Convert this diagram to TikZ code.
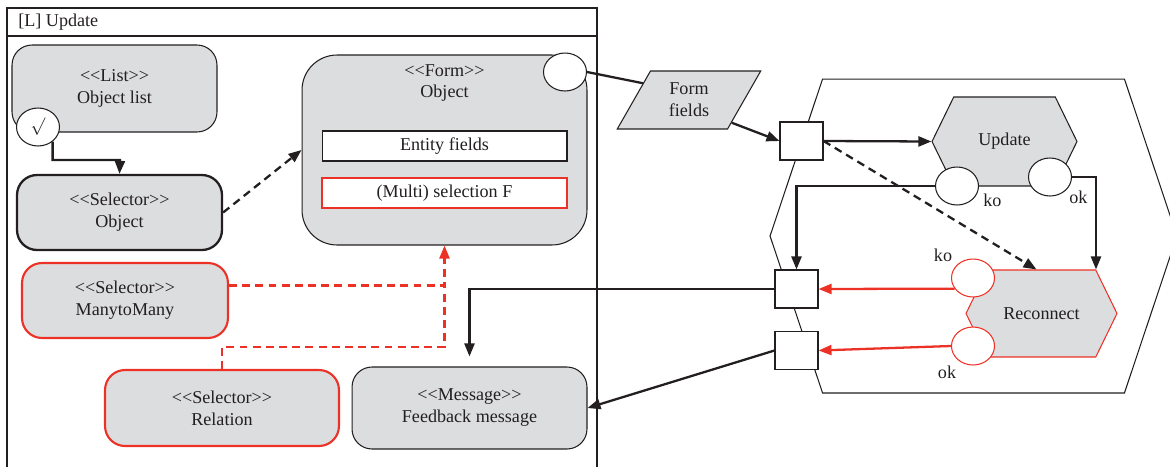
\documentclass[tikz,border=0pt]{standalone}
\usepackage{fontspec}
\setmainfont{Liberation Serif}
\usetikzlibrary{shapes.geometric,shapes.symbols,arrows.meta,calc}
\definecolor{boxgray}{RGB}{220,221,223}
\definecolor{linered}{RGB}{236,50,38}
\definecolor{ink}{RGB}{35,31,32}
\newcommand{\diagfont}{\fontsize{10.3}{12.5}\selectfont}
\newcommand{\stereo}[1]{<\kern0pt<#1>\kern0pt>}
\tikzset{
  unit/.style={rectangle, rounded corners=0.4cm, draw=ink, fill=boxgray, line width=0.6pt, align=center, inner sep=0pt},
  redunit/.style={unit, draw=linered, line width=1.2pt},
  field/.style={rectangle, draw=ink, fill=white, line width=0.6pt, minimum width=4.9cm, minimum height=0.6cm, inner sep=0pt},
  port/.style={ellipse, draw=ink, fill=white, line width=0.6pt, minimum width=0.86cm, minimum height=0.76cm, inner sep=0pt},
  redport/.style={port, draw=linered},
  gate/.style={rectangle, draw=ink, fill=white, line width=0.6pt, minimum width=0.86cm, minimum height=0.76cm, inner sep=0pt},
  operation/.style={signal, signal to=west and east, signal pointer angle=128, fill=boxgray, draw=ink, line width=0.6pt, inner sep=0pt},
  flow/.style={draw=ink, line width=1.3pt, -{Triangle[length=0.26cm,width=0.2cm]}},
  redflow/.style={draw=linered, line width=1.3pt, -{Triangle[length=0.26cm,width=0.2cm]}},
  link/.style={flow, dash pattern=on 4.5pt off 3pt},
  redlink/.style={draw=linered, line width=1.3pt, dash pattern=on 4.5pt off 3pt}
}
\begin{document}
\begin{tikzpicture}[x=0.02cm, y=-0.02cm, every node/.style={font=\diagfont, text=ink}]
  \useasboundingbox (0,0) rectangle (1170,467);

  % Container
  \draw[ink, line width=0.6pt] (7,467) -- (7,8) -- (597,8) -- (597,467);
  \draw[ink, line width=0.6pt] (7,36) -- (597,36);
  \node[anchor=west, inner sep=0pt] (title) at (18,22) {[L] Update};

  % View components
  \node[unit, minimum width=4.1cm, minimum height=1.74cm] (list) at (114.5,88.5) {\stereo{List}\\Object list};
  \node[port] (listport) at (38,127) {$\surd$};
  \node[unit, line width=1.3pt, minimum width=4.1cm, minimum height=1.5cm] (selobj) at (119.5,212.5) {\stereo{Selector}\\Object};
  \node[unit, rounded corners=0.7cm, minimum width=5.7cm, minimum height=3.8cm] (form) at (444.5,150) {};
  \node[align=center, inner sep=0pt] (formtitle) at (444.5,83) {\stereo{Form}\\Object};
  \node[port] (formport) at (565,72) {};
  \node[field] (entity) at (444.5,146) {Entity fields};
  \node[field, draw=linered, line width=1.2pt] (multi) at (444.5,193) {(Multi) selection F};
  \node[redunit, minimum width=4.12cm, minimum height=1.5cm] (many) at (125,300.5) {\stereo{Selector}\\ManytoMany};
  \node[redunit, minimum width=4.68cm, minimum height=1.52cm] (rel) at (222,408) {\stereo{Selector}\\Relation};
  \node[unit, minimum width=4.7cm, minimum height=1.64cm] (msg) at (469.5,408) {\stereo{Message}\\Feedback message};

  % Parameters
  \node[trapezium, trapezium left angle=63, trapezium right angle=117, trapezium stretches=true,
        draw=ink, fill=boxgray, line width=0.6pt, minimum width=2.88cm, minimum height=1.16cm,
        align=center, inner sep=0pt] (fields) at (689,100) {Form\\fields};

  % Operation module
  \node[signal, signal to=west and east, signal pointer angle=143, draw=ink, line width=0.6pt,
        minimum width=8.14cm, minimum height=6.28cm, inner sep=0pt] (module) at (973.5,236) {};
  \node[gate] (sq1) at (801.5,141) {};
  \node[gate] (sq2) at (796.5,289) {};
  \node[gate] (sq3) at (796.5,350.5) {};
  \node[operation, minimum width=2.9cm, minimum height=1.78cm] (upd) at (1004.5,141.5) {Update};
  \node[port] (updko) at (957,186) {};
  \node[port] (updok) at (1050,177) {};
  \node[anchor=west, inner sep=0pt] (updkolab) at (983,200) {ko};
  \node[anchor=west, inner sep=0pt] (updoklab) at (1069,197) {ok};
  \node[operation, draw=linered, minimum width=3.02cm, minimum height=1.74cm] (rec) at (1041.5,313.5) {Reconnect};
  \node[redport] (recko) at (973,278) {};
  \node[redport] (recok) at (973,346) {};
  \node[inner sep=0pt] (recklab) at (943,255) {ko};
  \node[inner sep=0pt] (recolab) at (947,372) {ok};

  % Waypoints
  \coordinate (kink) at (120,160);
  \coordinate (rjoin) at (444.5,347);
  \coordinate (mjoin) at (444.5,285.5);

  % Connectors
  \draw[flow] (listport.-45) |- (kink) -- (selobj.north);
  \draw[link] (selobj.east) -- (form.west);
  \draw[ink, line width=1.3pt] (formport.east) -- (fields.160);
  \draw[flow] (fields.-28) -- (sq1.west);
  \draw[flow] (sq1.east) -- (upd.west);
  \draw[link] (sq1.east) -- ($(rec.north)+(-5,0)$);
  \draw[flow] (updko.west) -| (sq2.north);
  \draw[flow] (updok.east) -| ($(rec.north)+(54.5,0)$);
  \draw[redflow] (recko.210) -- (sq2.east);
  \draw[redflow] (recok.west) -- (sq3.east);
  \draw[flow, shorten >=0.2cm] (sq2.west) -| (msg.north);
  \draw[flow] (sq3.west) -- (msg.east);
  \draw[redlink, -{Triangle[length=0.26cm,width=0.2cm]}] ([yshift=0.3cm]many.east) -| (form.south);
  \draw[redlink] (rel.north) |- (rjoin) -- (mjoin);
\end{tikzpicture}
\end{document}
